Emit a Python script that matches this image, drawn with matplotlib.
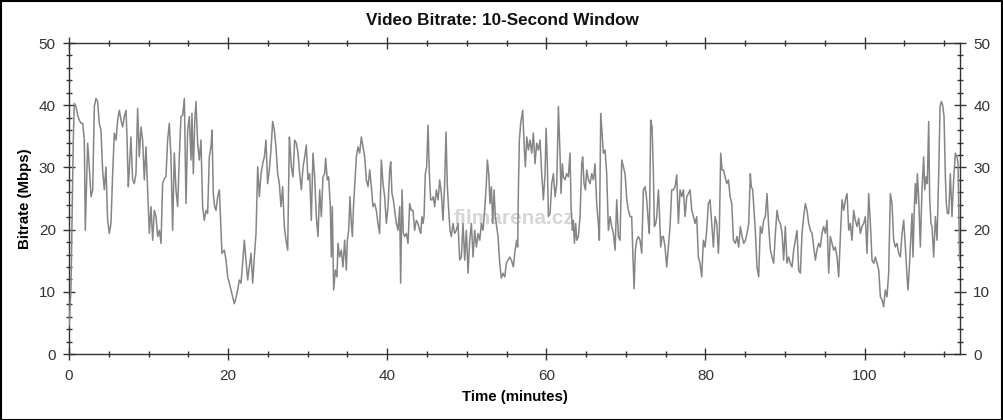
import matplotlib
matplotlib.use("Agg")
import matplotlib.pyplot as plt
from matplotlib.patches import Rectangle
from matplotlib.ticker import MultipleLocator

plt.rcParams['font.family'] = ['Liberation Sans', 'DejaVu Sans']

# (minute, Mbps), four stretches of the film
part1 = [(0.0, 4.5), (0.25, 10.3), (0.38, 21.0), (0.54, 34.4), (0.67, 40.3), (0.88, 39.8), (1.09, 38.4),
         (1.30, 37.6), (1.51, 37.1), (1.72, 37.1), (1.93, 34.4), (2.05, 19.9), (2.22, 28.0), (2.35, 33.9),
         (2.56, 30.0), (2.77, 25.3), (2.98, 26.4), (3.19, 39.8), (3.39, 41.1), (3.60, 40.6), (3.81, 37.1),
         (4.02, 36.0), (4.23, 29.6), (4.44, 26.4), (4.65, 30.1), (4.86, 21.5), (5.07, 19.4), (5.28, 21.0),
         (5.49, 29.0), (5.70, 35.5), (5.91, 34.4), (6.12, 37.6), (6.33, 39.2), (6.54, 37.6), (6.75, 36.5),
         (6.96, 38.2), (7.17, 39.2), (7.29, 34.9), (7.46, 26.9), (7.58, 29.6), (7.79, 34.9), (8.00, 28.0),
         (8.21, 27.4), (8.42, 29.0), (8.63, 39.5), (8.84, 31.7), (9.05, 36.5), (9.26, 34.4), (9.47, 28.0),
         (9.68, 33.3), (9.89, 26.4), (10.10, 19.4), (10.31, 23.7), (10.52, 18.3), (10.73, 23.1), (10.94, 22.1),
         (11.15, 18.9), (11.36, 19.9), (11.57, 17.8), (11.77, 27.4), (11.98, 28.2), (12.19, 28.5), (12.40, 34.4),
         (12.61, 37.1), (12.82, 31.7), (13.03, 19.9), (13.24, 32.3), (13.45, 26.4), (13.66, 23.7), (13.87, 31.7),
         (14.08, 38.2), (14.29, 38.4), (14.50, 41.1), (14.71, 24.2), (14.92, 36.0), (15.13, 38.2), (15.34, 31.2),
         (15.46, 38.7), (15.63, 29.0), (15.80, 37.1), (15.96, 40.6), (16.17, 33.9), (16.38, 31.2), (16.59, 34.4),
         (16.80, 23.7), (17.01, 21.5), (17.22, 23.1), (17.43, 22.6), (17.64, 31.7), (17.85, 33.3), (17.98, 36.0),
         (18.14, 25.8), (18.31, 23.7), (18.48, 23.1), (18.69, 25.3), (18.90, 26.4), (19.11, 19.9), (19.23, 16.2),
         (19.53, 16.7), (19.74, 15.1), (19.95, 12.4), (20.16, 11.4), (20.37, 10.3), (20.58, 9.2), (20.78, 8.1),
         (20.99, 9.0), (21.20, 10.3), (21.41, 11.9), (21.62, 11.4), (21.83, 14.6), (22.04, 18.3), (22.25, 15.1),
         (22.46, 11.9), (22.67, 14.0), (22.88, 16.2), (23.09, 11.4), (23.30, 15.6), (23.51, 19.4), (23.72, 30.1),
         (23.93, 25.3), (24.14, 29.0), (24.35, 30.6), (24.56, 31.7), (24.76, 34.4), (24.97, 27.4), (25.18, 29.6),
         (25.39, 32.8), (25.60, 37.4), (25.81, 36.0), (26.02, 33.3), (26.23, 29.0), (26.44, 27.4), (26.65, 23.7),
         (26.86, 26.9), (27.07, 20.5), (27.28, 18.3), (27.49, 16.7), (27.70, 34.9)]

part2 = [(27.74, 34.4), (27.95, 30.1), (28.16, 28.5), (28.37, 34.4), (28.58, 33.9), (28.79, 32.3), (29.00, 29.0),
         (29.21, 26.4), (29.42, 30.1), (29.63, 31.7), (29.83, 33.6), (30.04, 28.0), (30.25, 29.0), (30.46, 21.5),
         (30.67, 32.3), (30.88, 28.5), (31.09, 22.1), (31.30, 18.9), (31.51, 26.4), (31.72, 22.1), (31.93, 28.5),
         (32.14, 29.0), (32.26, 31.5), (32.47, 28.0), (32.64, 28.5), (32.85, 23.7), (32.98, 15.6), (33.10, 23.7),
         (33.27, 10.3), (33.48, 13.5), (33.69, 12.4), (33.81, 17.8), (34.02, 15.6), (34.23, 16.7), (34.44, 14.0),
         (34.65, 18.3), (34.86, 13.5), (34.99, 18.3), (35.16, 19.9), (35.32, 25.3), (35.49, 21.0), (35.62, 18.9),
         (35.78, 24.2), (35.91, 26.9), (36.12, 31.7), (36.33, 33.3), (36.54, 32.3), (36.75, 34.9), (36.96, 33.3),
         (37.17, 31.7), (37.38, 28.0), (37.59, 26.9), (37.80, 29.6), (38.01, 26.9), (38.21, 23.7), (38.42, 24.2),
         (38.63, 23.1), (38.84, 21.0), (39.05, 19.4), (39.26, 31.2), (39.47, 27.4), (39.68, 25.3), (39.89, 21.0),
         (40.10, 23.7), (40.31, 29.6), (40.44, 30.9), (40.60, 25.8), (40.77, 24.8), (40.94, 23.1), (41.15, 21.0),
         (41.36, 19.9), (41.57, 23.7), (41.69, 11.4), (41.86, 26.4), (42.03, 19.4), (42.20, 18.9), (42.41, 19.4),
         (42.62, 17.8), (42.82, 24.2), (43.03, 23.1), (43.24, 23.1), (43.45, 19.9), (43.66, 21.5), (43.87, 21.0),
         (44.08, 19.9), (44.21, 19.4), (44.37, 22.1), (44.50, 21.0), (44.63, 22.1), (44.79, 29.0), (44.96, 30.1),
         (45.13, 36.8), (45.30, 29.0), (45.46, 24.8), (45.63, 24.8), (45.80, 25.3), (45.97, 23.7), (46.18, 26.4),
         (46.39, 24.8), (46.60, 28.0), (46.81, 25.8), (47.01, 21.5), (47.22, 27.4), (47.39, 35.7), (47.56, 26.9),
         (47.73, 23.1), (47.89, 19.9), (48.06, 18.9), (48.27, 21.0), (48.48, 19.4), (48.69, 19.9), (48.90, 21.0),
         (49.11, 15.1), (49.32, 15.6), (49.53, 21.0), (49.74, 15.1), (49.95, 19.9), (50.16, 13.0), (50.37, 18.3),
         (50.58, 21.0), (50.79, 15.6), (51.00, 19.9), (51.21, 17.2), (51.42, 19.4), (51.63, 18.3), (51.84, 21.0),
         (52.04, 19.9), (52.25, 23.1), (52.46, 27.4), (52.59, 31.2), (52.76, 29.0), (52.92, 24.2), (53.09, 26.9),
         (53.26, 21.0), (53.43, 26.4), (53.59, 22.1), (53.76, 20.5), (53.93, 18.9), (54.14, 14.6), (54.35, 12.2),
         (54.56, 13.0), (54.77, 12.4), (54.98, 14.6), (55.19, 15.1), (55.40, 15.6), (55.61, 15.1)]

part3 = [(55.86, 14.0), (56.07, 16.7), (56.28, 18.3), (56.40, 17.2), (56.49, 26.4), (56.61, 34.4), (56.78, 37.1),
         (56.91, 38.2), (57.03, 39.2), (57.12, 36.5), (57.24, 32.8), (57.37, 30.1), (57.54, 34.9), (57.74, 32.8),
         (57.95, 34.4), (58.16, 32.3), (58.37, 35.5), (58.58, 30.6), (58.79, 33.9), (59.00, 32.8), (59.21, 34.4),
         (59.42, 29.0), (59.63, 24.8), (59.84, 29.0), (59.97, 36.3), (60.13, 30.6), (60.26, 22.1), (60.47, 22.6),
         (60.68, 27.4), (60.89, 29.0), (61.10, 25.3), (61.31, 27.4), (61.52, 39.8), (61.73, 31.7), (61.85, 25.8),
         (62.02, 30.6), (62.14, 28.5), (62.35, 28.0), (62.56, 29.0), (62.77, 28.5), (62.98, 32.3), (63.11, 23.7),
         (63.28, 19.9), (63.40, 21.5), (63.53, 17.8), (63.69, 21.0), (63.82, 18.3), (64.03, 18.9), (64.24, 22.1),
         (64.45, 30.6), (64.57, 31.7), (64.74, 27.4), (64.91, 26.4), (65.08, 29.6), (65.29, 28.0), (65.50, 27.4),
         (65.71, 29.0), (65.92, 28.0), (66.12, 30.6), (66.33, 24.2), (66.54, 21.0), (66.67, 18.3), (66.84, 38.7),
         (67.00, 35.5), (67.17, 32.3), (67.38, 32.8), (67.59, 29.0), (67.80, 19.9), (68.01, 22.1), (68.22, 20.5),
         (68.43, 19.4), (68.64, 16.7), (68.85, 24.8), (69.06, 18.9), (69.27, 18.3), (69.48, 31.2), (69.69, 30.1),
         (69.90, 29.0), (70.11, 24.8), (70.32, 23.1), (70.52, 22.1), (70.73, 22.1), (70.86, 16.7), (71.03, 10.5),
         (71.19, 16.7), (71.36, 18.3), (71.57, 18.9), (71.78, 18.3), (71.99, 16.2), (72.20, 26.4), (72.41, 26.9),
         (72.62, 24.8), (72.83, 21.0), (72.95, 19.4), (73.12, 37.6), (73.29, 36.5), (73.46, 29.0), (73.58, 20.5),
         (73.75, 21.0), (73.88, 22.1), (74.09, 26.4), (74.21, 23.1), (74.38, 17.2), (74.55, 18.9), (74.71, 18.9),
         (74.92, 17.2), (75.13, 14.0), (75.34, 17.2), (75.55, 20.5), (75.76, 26.4), (75.97, 26.4), (76.18, 26.9),
         (76.39, 28.8), (76.60, 21.0), (76.81, 26.4), (77.02, 25.3), (77.23, 26.4), (77.44, 22.1), (77.65, 25.3),
         (77.86, 25.8), (78.07, 26.4), (78.28, 23.1), (78.49, 22.1), (78.70, 21.0), (78.90, 22.1), (79.11, 15.6),
         (79.32, 14.6), (79.53, 12.4), (79.74, 18.3), (79.95, 17.2), (80.16, 19.9), (80.37, 24.2), (80.58, 24.8),
         (80.79, 21.0), (81.00, 17.2), (81.21, 22.1), (81.42, 21.0), (81.63, 16.2), (81.75, 19.9), (81.92, 32.3),
         (82.09, 29.6), (82.26, 29.6), (82.47, 28.5), (82.68, 27.4), (82.89, 28.0), (83.10, 25.3), (83.31, 24.2),
         (83.52, 18.3)]

part4 = [(83.76, 17.8), (83.97, 18.9), (84.18, 17.2), (84.39, 20.5), (84.60, 18.9), (84.81, 17.8), (85.02, 18.3),
         (85.23, 19.4), (85.44, 21.0), (85.64, 29.0), (85.77, 26.9), (85.94, 26.4), (86.11, 23.1), (86.27, 19.9),
         (86.48, 14.0), (86.69, 12.4), (86.90, 20.5), (87.11, 19.4), (87.32, 21.5), (87.53, 22.1), (87.74, 25.8),
         (87.95, 20.5), (88.16, 16.7), (88.37, 15.6), (88.58, 14.6), (88.79, 19.4), (89.00, 23.1), (89.21, 21.5),
         (89.42, 21.0), (89.63, 19.4), (89.83, 15.1), (90.04, 20.5), (90.25, 14.6), (90.46, 15.6), (90.67, 14.6),
         (90.88, 14.0), (91.09, 16.7), (91.30, 18.3), (91.51, 19.9), (91.72, 13.5), (91.93, 13.0), (92.14, 19.4),
         (92.35, 22.1), (92.56, 24.2), (92.77, 23.1), (92.98, 21.0), (93.19, 19.9), (93.40, 19.4), (93.61, 17.2),
         (93.82, 15.1), (94.02, 16.7), (94.23, 17.8), (94.44, 17.2), (94.65, 19.4), (94.86, 20.5), (95.07, 19.4),
         (95.28, 21.5), (95.49, 13.0), (95.70, 18.9), (95.91, 17.8), (96.12, 16.7), (96.33, 17.2), (96.54, 15.6),
         (96.75, 12.4), (96.96, 18.9), (97.17, 24.8), (97.38, 23.1), (97.59, 24.8), (97.80, 25.8), (98.01, 19.9),
         (98.21, 21.0), (98.42, 18.3), (98.63, 23.1), (98.84, 21.5), (99.05, 20.5), (99.26, 21.8), (99.47, 19.4),
         (99.68, 20.5), (99.89, 21.0), (100.10, 22.1), (100.31, 16.2), (100.52, 25.8), (100.73, 21.0), (100.94, 15.1),
         (101.15, 14.6), (101.36, 15.6), (101.57, 14.6), (101.78, 13.5), (101.99, 9.2), (102.20, 8.7), (102.40, 7.6),
         (102.61, 10.3), (102.82, 9.2), (103.03, 13.0), (103.24, 25.8), (103.45, 24.2), (103.66, 18.3), (103.87, 17.2),
         (104.08, 17.8), (104.29, 16.2), (104.50, 15.6), (104.71, 19.4), (104.92, 21.5), (105.13, 17.2), (105.34, 12.4),
         (105.46, 10.3), (105.63, 14.0), (105.76, 17.2), (105.97, 22.6), (106.09, 15.6), (106.26, 23.7), (106.38, 27.4),
         (106.51, 24.2), (106.64, 29.0), (106.80, 25.3), (107.01, 17.2), (107.22, 26.4), (107.43, 31.7), (107.56, 26.4),
         (107.73, 28.5), (107.89, 27.4), (108.06, 37.4), (108.19, 24.8), (108.35, 21.0), (108.48, 20.5), (108.69, 15.6),
         (108.90, 22.1), (109.11, 18.3), (109.32, 29.0), (109.49, 39.8), (109.65, 40.6), (109.82, 40.0), (109.99, 38.2),
         (110.16, 28.5), (110.28, 24.2), (110.41, 22.6), (110.58, 22.6), (110.78, 29.0), (110.99, 22.1), (111.20, 28.0),
         (111.41, 32.3), (111.62, 31.7), (111.75, 30.6), (111.95, 15.1)]

minutes = [p[0] for part in (part1, part2, part3, part4) for p in part]
mbps = [p[1] for part in (part1, part2, part3, part4) for p in part]

fig = plt.figure(figsize=(10.04, 4.2), dpi=100)
ax = fig.add_axes([0.0687, 0.157, 0.8875, 0.7405])

ax.plot(minutes, mbps, color='#858585', lw=1.1, zorder=3)

# faint watermark in the middle of the plot
ax.text(0.5, 0.437, 'filmarena.cz', transform=ax.transAxes, fontsize=15, fontweight='bold',
        color='#d6d6d6', ha='center', va='center', zorder=1)

ax.set_xlim(0, 112)
ax.set_ylim(0, 50)
ax.xaxis.set_major_locator(MultipleLocator(20))
ax.xaxis.set_minor_locator(MultipleLocator(5))
ax.yaxis.set_major_locator(MultipleLocator(10))
ax.yaxis.set_minor_locator(MultipleLocator(2))

ax.tick_params(axis='both', which='both', direction='inout', colors='#333333', labelsize=11,
               top=True, right=True, labelright=True)
ax.tick_params(axis='both', which='major', length=9, width=1)
ax.tick_params(axis='both', which='minor', length=5, width=1)
ax.tick_params(axis='y', which='major', pad=5)
ax.tick_params(axis='x', which='major', pad=6)
for s in ax.spines.values():
    s.set_color('#333333')
    s.set_linewidth(1)

ax.set_xlabel('Time (minutes)', fontsize=10.8, fontweight='bold', labelpad=5)
ax.set_ylabel('Bitrate (Mbps)', fontsize=10.8, fontweight='bold', labelpad=5)
fig.text(0.5, 0.952, 'Video Bitrate: 10-Second Window', ha='center', va='center',
         fontsize=12.3, fontweight='bold', color='#111111')

fig.patches.append(Rectangle((0.0005, 0.001), 0.998, 0.997, transform=fig.transFigure,
                             fill=False, edgecolor='black', lw=1.5))

fig.savefig('out.png', dpi=100)
